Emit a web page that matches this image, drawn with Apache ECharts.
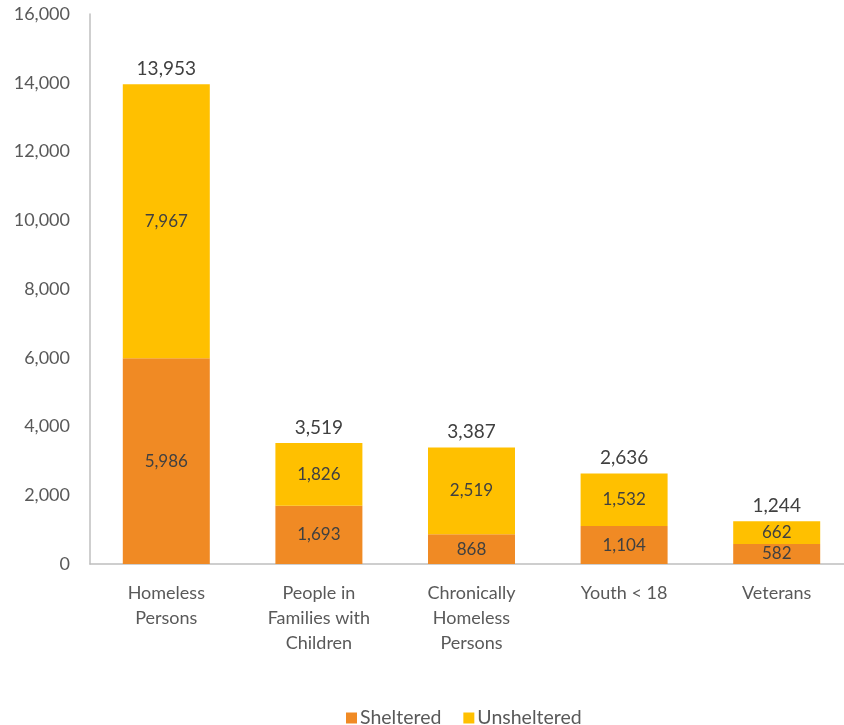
<!DOCTYPE html>
<html><head><meta charset="utf-8">
<script src="https://cdn.jsdelivr.net/npm/echarts@6/dist/echarts.min.js"></script>
<style>html,body{margin:0;padding:0;background:#fff}#c{width:844px;height:725px}</style>
</head><body><div id="c"></div>
<script>
const categories = ['Homeless\nPersons', 'People in\nFamilies with\nChildren', 'Chronically\nHomeless\nPersons', 'Youth < 18', 'Veterans'];
const sheltered = [5986, 1693, 868, 1104, 582];
const unsheltered = [7967, 1826, 2519, 1532, 662];
const totals = [13953, 3519, 3387, 2636, 1244];
const yTicks = [0, 2000, 4000, 6000, 8000, 10000, 12000, 14000, 16000];

const FONT = 'Lato, "Open Sans", sans-serif';
const fmt = v => Number(v).toLocaleString('en-US');
const chart = echarts.init(document.getElementById('c'));
chart.setOption({
  animation: false,
  textStyle: { fontFamily: FONT },
  grid: { left: 90, width: 763, top: 14, bottom: 161, containLabel: false, outerBoundsMode: 'none' },
  legend: {
    data: ['Sheltered', 'Unsheltered'],
    top: 703, left: 341,
    icon: 'rect', itemWidth: 11, itemHeight: 11, itemGap: 22,
    textStyle: { fontSize: 19.5, color: '#595959', fontFamily: FONT, padding: [0,0,0,-2] }
  },
  xAxis: {
    type: 'category', data: categories,
    axisLine: { lineStyle: { color: '#BFBFBF', width: 1.5 } },
    axisTick: { show: false },
    axisLabel: { fontSize: 18, color: '#595959', lineHeight: 25, margin: 17, interval: 0, fontFamily: FONT }
  },
  yAxis: {
    type: 'value', min: 0, max: 16000, interval: 2000,
    splitLine: { show: false },
    axisLine: { show: true, lineStyle: { color: '#BFBFBF', width: 1.5 } },
    axisTick: { show: false },
    axisLabel: { fontSize: 18, color: '#595959', margin: 20, formatter: v => fmt(v), fontFamily: FONT }
  },
  series: [
    { name: 'Sheltered', type: 'bar', stack: 's', data: sheltered, barWidth: 87,
      itemStyle: { color: '#F08A24' },
      label: { show: true, position: 'inside', fontSize: 17, color: '#404040', formatter: p => fmt(p.value), fontFamily: FONT } },
    { name: 'Unsheltered', type: 'bar', stack: 's', data: unsheltered, barWidth: 87,
      itemStyle: { color: '#FFC000' },
      label: { show: true, position: 'inside', fontSize: 17, color: '#404040', formatter: p => fmt(p.value), fontFamily: FONT } },
    { name: 'Total', type: 'scatter', data: totals, symbol: 'circle', symbolSize: 2,
      itemStyle: { color: 'rgba(255,255,255,0)', opacity: 1 },
      label: { show: true, position: 'top', distance: 5, fontSize: 19, color: '#404040', opacity: 1, formatter: p => fmt(p.value), fontFamily: FONT },
      tooltip: { show: false } }
  ]
});
</script></body></html>
